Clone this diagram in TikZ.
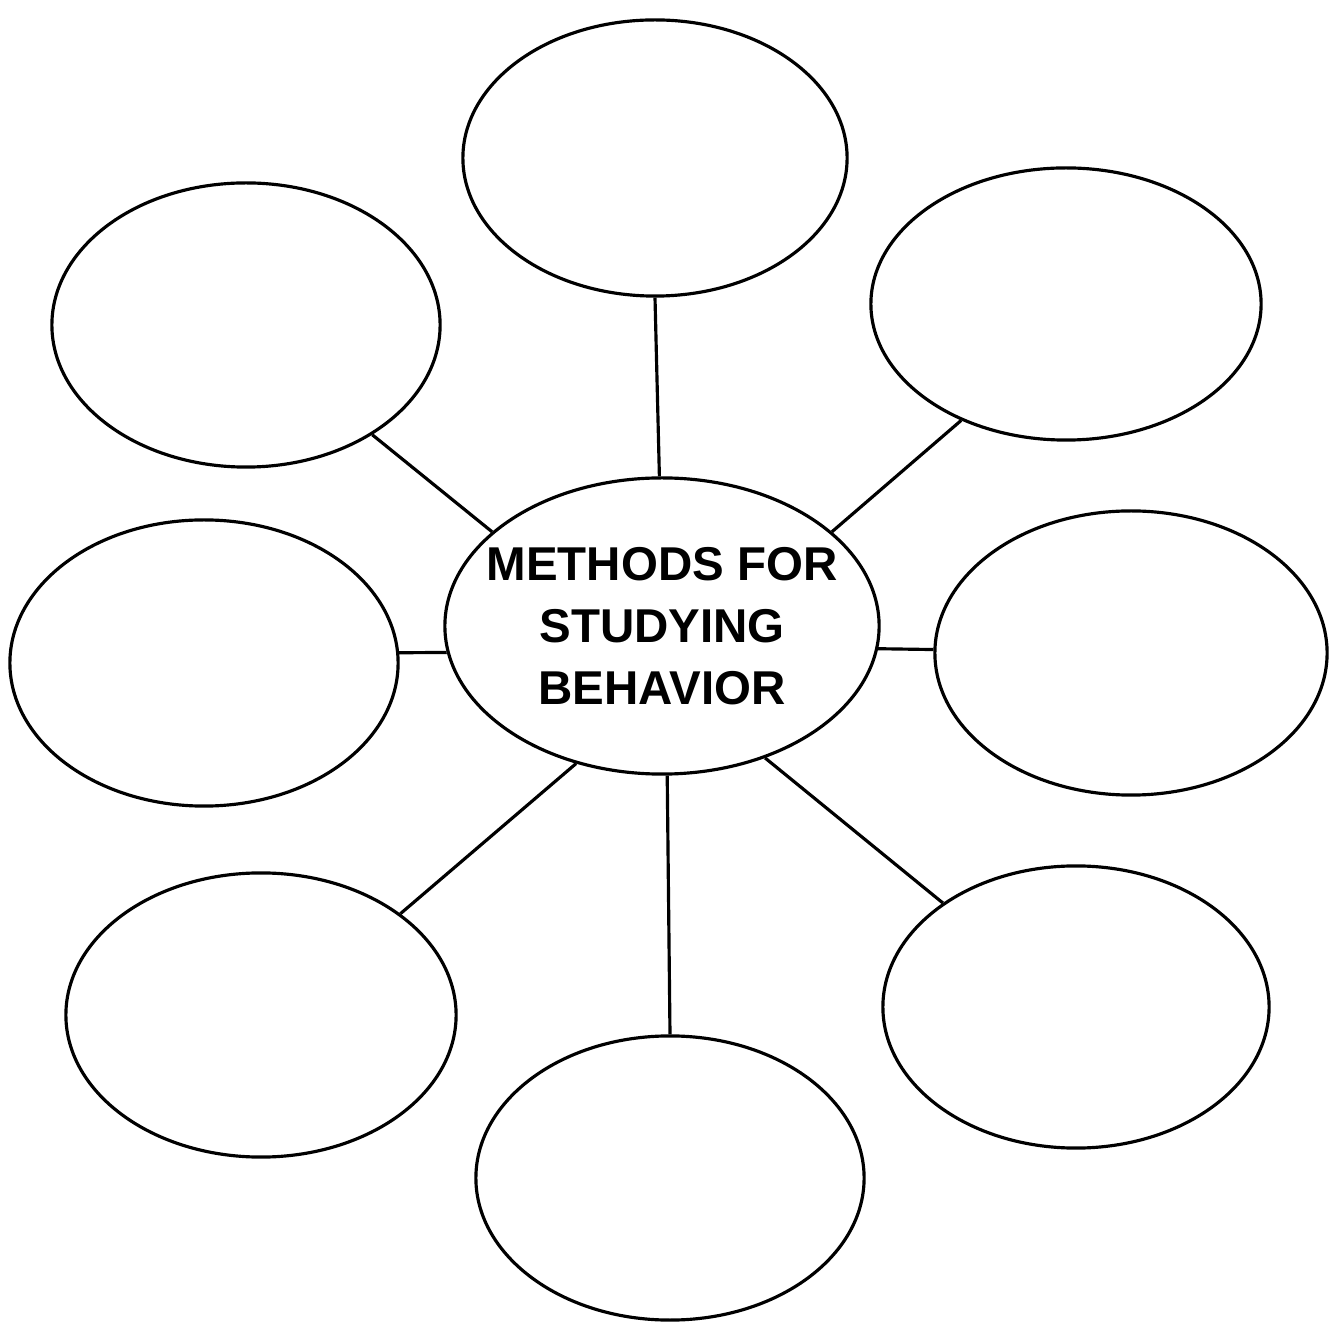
\documentclass[tikz,border=0pt]{standalone}
\usepackage{fontspec}
\setmainfont{Liberation Sans}
\usetikzlibrary{shapes.geometric}

\tikzset{
  blob/.style={draw, ellipse, line width=0.9pt, inner sep=0pt},
  spoke/.style={line width=0.9pt}
}

\begin{document}
\begin{tikzpicture}[x=0.01cm,y=-0.01cm]
\useasboundingbox (0,0) rectangle (1339,1322);

\node[blob, minimum width=4.34cm, minimum height=2.96cm, inner xsep=-0.22cm, align=center,
      font=\bfseries\fontsize{13.5}{17.6}\selectfont] (hub) at (662,626)
      {METHODS FOR\\STUDYING\\BEHAVIOR};

\node[blob, minimum width=3.84cm, minimum height=2.76cm] (top) at (655,158) {};
\node[blob, minimum width=3.88cm, minimum height=2.84cm] (topleft) at (246,325) {};
\node[blob, minimum width=3.90cm, minimum height=2.72cm] (topright) at (1066,304) {};
\node[blob, minimum width=3.88cm, minimum height=2.86cm] (left) at (204,663) {};
\node[blob, minimum width=3.92cm, minimum height=2.84cm] (right) at (1131,653) {};
\node[blob, minimum width=3.90cm, minimum height=2.84cm] (botleft) at (261,1015) {};
\node[blob, minimum width=3.86cm, minimum height=2.82cm] (botright) at (1076,1007) {};
\node[blob, minimum width=3.88cm, minimum height=2.84cm] (bottom) at (670,1178) {};

% spokes: hub anchor angle / outer anchor angle
\foreach \n/\a/\b in {top/91/-90, topleft/151/-41, topright/29/228,
    left/187/3, right/-6/179, botleft/-122/36, bottom/-88/90, botright/-52/142}
  \draw[spoke] (hub.\a) -- (\n.\b);

\end{tikzpicture}
\end{document}
